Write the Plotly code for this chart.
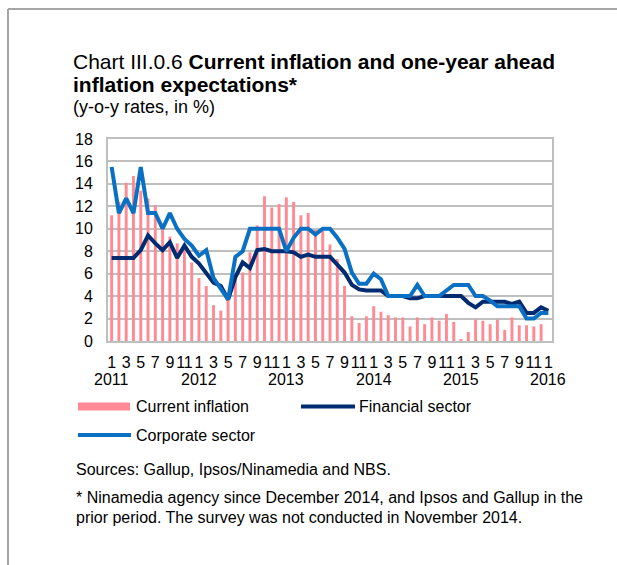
import plotly.graph_objects as go

# Monthly observations, January 2011 - January 2016
years = [2011, 2012, 2013, 2014, 2015, 2016]
month_labels = ["1", "3", "5", "7", "9", "11"]

current_inflation = [
    11.2, 12.4, 14.1, 14.7, 13.4, 12.7, 12.1, 10.5, 9.3, 8.7, 8.1, 7.0,
    5.6, 4.9, 3.2, 2.7, 3.9, 5.5, 6.1, 7.9, 10.3, 12.9, 11.9, 12.2,
    12.8, 12.4, 11.2, 11.4, 9.9, 9.8, 8.6, 7.3, 4.9, 2.2, 1.6, 2.2,
    3.1, 2.6, 2.3, 2.1, 2.1, 1.3, 2.1, 1.5, 2.1, 1.8, 2.4, 1.7,
    0.1, 0.8, 1.9, 1.8, 1.5, 1.9, 1.0, 2.1, 1.4, 1.4, 1.3, 1.5,
    None,
]

financial_sector = [
    7.4, 7.4, 7.4, 7.4, 8.1, 9.4, 8.7, 8.1, 8.8, 7.4, 8.5, 7.5,
    6.9, 6.0, 5.2, 4.9, 3.7, 5.7, 7.0, 6.5, 8.1, 8.2, 8.0, 8.0,
    8.0, 7.9, 7.5, 7.7, 7.5, 7.5, 7.5, 6.8, 6.1, 5.0, 4.6, 4.5,
    4.5, 4.5, 4.0, 4.0, 4.0, 3.8, 3.8, 4.0, 4.0, 4.0, None, 4.0,
    4.0, 3.4, 3.0, 3.5, 3.5, 3.5, 3.5, 3.3, 3.5, 2.5, 2.5, 3.0,
    2.7,
]

corporate_sector = [
    15.5, 11.4, 12.7, 11.4, 15.5, 11.4, 11.4, 10.0, 11.4, 10.0, 9.1, 8.5,
    7.6, 8.1, 5.6, 4.7, 3.7, 7.5, 8.0, 10.0, 10.0, 10.0, 10.0, 10.0,
    8.0, 9.2, 10.0, 10.0, 9.5, 10.0, 10.0, 9.2, 8.2, 6.1, 5.1, 5.1,
    6.0, 5.5, 4.0, 4.0, 4.0, 4.0, 5.0, 4.0, 4.0, 4.0, None, 5.0,
    5.0, 5.0, 4.0, 4.0, 3.6, 3.1, 3.1, 3.1, 3.1, 2.0, 2.0, 2.5,
    2.5,
]

n = len(current_inflation)
idx = list(range(n))

FONT = "Liberation Sans, Arial, sans-serif"
PINK = "#FF8A94"
NAVY = "#002B70"
BLUE = "#0A70C4"
GRID = "#BFBFBF"

W, H = 617, 565
ML, MR, MT, MB = 108, 65, 139, 224
PW, PH = W - ML - MR, H - MT - MB


def px(x):
    return (x - ML) / PW


def py(y):
    return (H - MB - y) / PH


fig = go.Figure()
fig.add_trace(go.Bar(x=idx, y=current_inflation, marker=dict(color=PINK, line=dict(width=0)),
                     name="Current inflation", showlegend=False))
fig.add_trace(go.Scatter(x=idx, y=financial_sector, mode="lines", connectgaps=True,
                         line=dict(color=NAVY, width=4), name="Financial sector", showlegend=False))
fig.add_trace(go.Scatter(x=idx, y=corporate_sector, mode="lines", connectgaps=True,
                         line=dict(color=BLUE, width=4), name="Corporate sector", showlegend=False))

tickvals = idx[::2]
ticktext = [month_labels[(i % 12) // 2] for i in tickvals]

fig.update_xaxes(range=[-0.5, n - 0.5], tickmode="array", tickvals=tickvals, ticktext=ticktext,
                 tickangle=0, tickfont=dict(size=16, color="#000"), showgrid=False,
                 showline=True, mirror=True, linecolor=GRID, linewidth=2, ticks="",
                 ticklabelstandoff=6, zeroline=False, fixedrange=True)
fig.update_yaxes(range=[0, 18], dtick=2, tickfont=dict(size=16, color="#000"), showgrid=True,
                 gridcolor=GRID, gridwidth=1.5, showline=True, mirror=True, linecolor=GRID,
                 linewidth=2, ticks="", ticklabelstandoff=10, zeroline=False, fixedrange=True)

annotations = []


def text(x, y, s, size=16, anchor="left"):
    annotations.append(dict(x=px(x), y=py(y), xref="paper", yref="paper", text=s, showarrow=False,
                            xanchor=anchor, yanchor="middle", font=dict(family=FONT, size=size, color="#000")))


text(71, 61, "Chart III.0.6 <b>Current inflation and one-year ahead</b>", 21)
text(71, 84.5, "<b>inflation expectations*</b>", 21)
text(71, 107, "(y-o-y rates, in %)", 18)
text(134, 406.5, "Current inflation")
text(357, 406.5, "Financial sector")
text(134, 435, "Corporate sector")
text(74, 469, "Sources: Gallup, Ipsos/Ninamedia and NBS.")
text(74, 497, "* Ninamedia agency since December 2014, and Ipsos and Gallup in the")
text(74, 517, "prior period. The survey was not conducted in November 2014.")

# year labels under the January ticks
for k, yr in enumerate(years):
    annotations.append(dict(x=12 * k, y=py(379), xref="x", yref="paper", text=str(yr), showarrow=False,
                            xanchor="center", yanchor="middle", font=dict(family=FONT, size=16, color="#000")))

shapes = [
    # page frame
    dict(type="line", xref="paper", yref="paper", x0=px(8), x1=px(W + 5), y0=py(9), y1=py(9),
         line=dict(color="#A6A6A6", width=2)),
    dict(type="line", xref="paper", yref="paper", x0=px(8), x1=px(8), y0=py(9), y1=py(H + 5),
         line=dict(color="#A6A6A6", width=2)),
    # legend keys
    dict(type="rect", xref="paper", yref="paper", x0=px(78), x1=px(130), y0=py(410.5), y1=py(402.5),
         fillcolor=PINK, line=dict(width=0)),
    dict(type="line", xref="paper", yref="paper", x0=px(301), x1=px(355), y0=py(406.5), y1=py(406.5),
         line=dict(color=NAVY, width=4)),
    dict(type="line", xref="paper", yref="paper", x0=px(78), x1=px(131), y0=py(435), y1=py(435),
         line=dict(color=BLUE, width=4)),
]

fig.update_layout(
    width=W, height=H, autosize=False,
    margin=dict(l=ML, r=MR, t=MT, b=MB, pad=0),
    paper_bgcolor="white", plot_bgcolor="white",
    bargap=0.6, showlegend=False,
    font=dict(family=FONT, size=16, color="#000"),
    annotations=annotations, shapes=shapes,
)

fig.write_html("out.html", config={"displayModeBar": False})
